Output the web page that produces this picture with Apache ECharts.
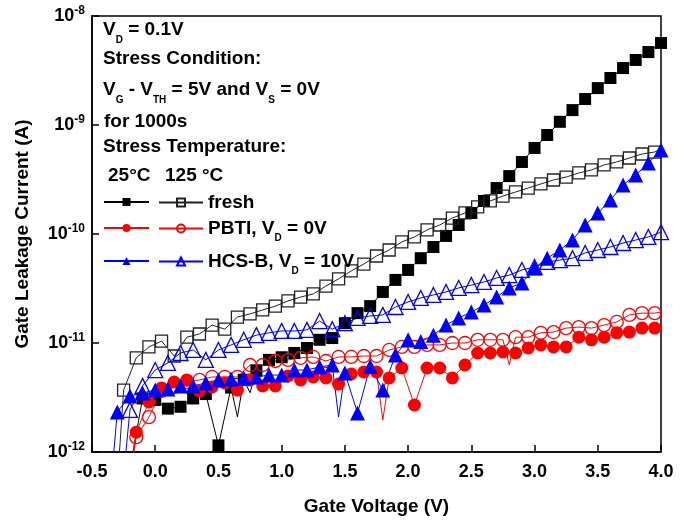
<!DOCTYPE html>
<html>
<head>
<meta charset="utf-8">
<script src="https://cdn.jsdelivr.net/npm/echarts@6/dist/echarts.min.js"></script>
<style>
  html, body { margin: 0; padding: 0; background: #fff; }
  #chart { width: 695px; height: 522px; }
</style>
</head>
<body>
<div id="chart"></div>
<script>
// gate voltage sweep points (V)
const voltsA = [-0.3, -0.2, -0.1, 0.0, 0.1, 0.2, 0.3, 0.4, 0.5, 0.6, 0.7, 0.8, 0.9, 1.0, 1.1, 1.2, 1.3, 1.4, 1.5, 1.6, 1.7, 1.8, 1.9, 2.0, 2.1, 2.2, 2.3, 2.4, 2.5, 2.6, 2.7, 2.8, 2.9, 3.0, 3.1, 3.2, 3.3, 3.4, 3.5, 3.6, 3.7, 3.8, 3.9, 4.0]
const voltsB = [-0.25, -0.15, -0.05, 0.05, 0.15, 0.25, 0.35, 0.45, 0.55, 0.65, 0.75, 0.85, 0.95, 1.05, 1.15, 1.25, 1.35, 1.45, 1.55, 1.65, 1.75, 1.85, 1.95, 2.05, 2.15, 2.25, 2.35, 2.45, 2.55, 2.65, 2.75, 2.85, 2.95, 3.05, 3.15, 3.25, 3.35, 3.45, 3.55, 3.65, 3.75, 3.85, 3.95]

// gate leakage current (A)
// fresh, 25C  (voltsA from -0.2)
const freshRT = [7e-13, 3.1e-12, 3.0e-12, 2.5e-12, 2.6e-12, 3.1e-12, 3.4e-12, 1.15e-12, 3.9e-12, 4.6e-12, 5.6e-12, 7.0e-12, 7.4e-12, 8.1e-12, 9.0e-12, 1.07e-11, 1.11e-11, 1.52e-11, 1.88e-11, 2.18e-11, 2.94e-11, 3.79e-11, 4.68e-11, 6.0e-11, 7.6e-11, 9.6e-11, 1.21e-10, 1.56e-10, 2.01e-10, 2.64e-10, 3.4e-10, 4.58e-10, 6.15e-10, 8.1e-10, 1.07e-9, 1.37e-9, 1.73e-9, 2.18e-9, 2.7e-9, 3.33e-9, 3.95e-9, 4.67e-9, 5.65e-9]
const freshRTGaps = [[0.65, 2.1e-12], [0.75, 3.5e-12]]
// fresh, 125C  (voltsB)
const freshHT = [3.7e-12, 7.3e-12, 9.2e-12, 1.04e-11, 7.6e-12, 1.13e-11, 1.21e-11, 1.46e-11, 1.34e-11, 1.73e-11, 1.85e-11, 2.01e-11, 2.18e-11, 2.43e-11, 2.64e-11, 2.82e-11, 3.33e-11, 3.87e-11, 4.58e-11, 5.3e-11, 6.28e-11, 7.13e-11, 8.45e-11, 9.4e-11, 1.09e-10, 1.21e-10, 1.4e-10, 1.56e-10, 1.77e-10, 2.01e-10, 2.23e-10, 2.43e-10, 2.64e-10, 2.88e-10, 3.13e-10, 3.33e-10, 3.63e-10, 3.87e-10, 4.3e-10, 4.58e-10, 4.98e-10, 5.42e-10, 5.65e-10]
const freshHTGaps = [[-0.3, 5e-13], [4.0, 6.0e-10]]
// PBTI, 25C  (voltsB from -0.15)
const pbtiRT = [1.52e-12, 2.88e-12, 3.87e-12, 4.39e-12, 4.58e-12, 3.63e-12, 3.95e-12, 4.3e-12, 3.7e-12, 4.58e-12, 4.04e-12, 4.04e-12, 4.98e-12, 4.58e-12, 4.88e-12, 4.78e-12, 4.2e-12, 5.2e-12, 5.42e-12, 5.42e-12, 4.78e-12, 5.9e-12, 2.7e-12, 5.9e-12, 5.9e-12, 4.78e-12, 6.28e-12, 8.1e-12, 8.1e-12, 8.27e-12, 8.1e-12, 9.0e-12, 9.6e-12, 9.2e-12, 9.2e-12, 1.13e-11, 1.07e-11, 1.13e-11, 1.24e-11, 1.26e-11, 1.37e-11, 1.37e-11]
const pbtiRTGaps = [[-0.2, 6e-13], [1.8, 1.97e-12], [4.0, 1.4e-11]]
// PBTI, 125C  (voltsB from -0.15)
const pbtiHT = [1.37e-12, 2.09e-12, 3.63e-12, 3.95e-12, 4.39e-12, 4.58e-12, 4.88e-12, 4.88e-12, 4.88e-12, 6.28e-12, 6.28e-12, 6.84e-12, 7.0e-12, 7.3e-12, 7.45e-12, 6.84e-12, 7.45e-12, 7.45e-12, 7.6e-12, 7.6e-12, 8.63e-12, 9.2e-12, 9.2e-12, 9.6e-12, 9.6e-12, 1.0e-11, 1.0e-11, 1.07e-11, 1.07e-11, 1.07e-11, 1.13e-11, 1.13e-11, 1.24e-11, 1.26e-11, 1.37e-11, 1.4e-11, 1.37e-11, 1.46e-11, 1.56e-11, 1.81e-11, 1.88e-11, 1.88e-11]
const pbtiHTGaps = [[-0.2, 6e-13], [2.8, 6.3e-12], [4.0, 1.92e-11]]
// HCS-B, 25C  (voltsA)
const hcsRT = [2.33e-12, 3.27e-12, 3.48e-12, 3.7e-12, 3.79e-12, 4.04e-12, 4.04e-12, 4.3e-12, 4.58e-12, 4.68e-12, 4.78e-12, 4.88e-12, 5.08e-12, 5.08e-12, 5.65e-12, 5.65e-12, 6.03e-12, 6.28e-12, 5.3e-12, 2.28e-12, 6.1e-12, 3.7e-12, 7.76e-12, 1.07e-11, 1.03e-11, 1.18e-11, 1.46e-11, 1.7e-11, 1.92e-11, 2.23e-11, 2.64e-11, 3.2e-11, 3.55e-11, 4.88e-11, 6.0e-11, 7.13e-11, 8.8e-11, 1.21e-10, 1.56e-10, 2.05e-10, 2.82e-10, 3.48e-10, 4.48e-10, 5.9e-10]
const hcsRTGaps = [[-0.35, 5e-13], [1.45, 2.1e-12]]
// HCS-B, 125C  (voltsA from -0.2)
const hcsHT = [2.43e-12, 4.04e-12, 5.65e-12, 6.56e-12, 8.1e-12, 8.63e-12, 7.0e-12, 8.63e-12, 9.6e-12, 1.07e-11, 1.18e-11, 1.24e-11, 1.29e-11, 1.29e-11, 1.32e-11, 1.59e-11, 1.34e-11, 1.52e-11, 1.7e-11, 1.77e-11, 1.81e-11, 2.14e-11, 2.38e-11, 2.59e-11, 2.76e-11, 2.94e-11, 3.2e-11, 3.4e-11, 3.63e-11, 3.95e-11, 4.2e-11, 4.68e-11, 4.98e-11, 5.54e-11, 5.77e-11, 6.0e-11, 6.7e-11, 7.13e-11, 7.6e-11, 8.27e-11, 8.8e-11, 9.4e-11, 1.04e-10]
const hcsHTGaps = [[-0.25, 6e-13]]

const xTicks = { min: -0.5, max: 4.0, step: 0.5 }
const yRange = [1e-12, 1e-8]
const legendTexts = ['{n|fresh}', '{n|PBTI, V}{d|D}{n| = 0V}', '{n|HCS-B, V}{d|D}{n| = 10V}']

const FONT = '"Liberation Sans", Arial, sans-serif'

function points(vs, is, gaps) {
  let d = vs.map((v, i) => ({ value: [v, is[i]] }))
  gaps.forEach(g => d.push({ value: g, symbol: 'none' }))
  return d.sort((a, b) => a.value[0] - b.value[0])
}

const rich = {
  n: { fontSize: 19, fontWeight: 'bold', fontFamily: FONT, color: '#000', lineHeight: 30 },
  d: { fontSize: 10, fontWeight: 'bold', fontFamily: FONT, color: '#000', lineHeight: 10, verticalAlign: 'bottom' }
}

function line(name, data, symbol, size, color, filled) {
  return {
    type: 'line',
    name,
    data,
    symbol,
    symbolSize: size,
    showAllSymbol: true,
    clip: true,
    animation: false,
    lineStyle: { color: color, width: 1 },
    itemStyle: filled
      ? { color: color, borderWidth: 0 }
      : { color: 'rgba(255,255,255,0)', borderColor: color, borderWidth: 1.3 },
    emphasis: { disabled: true }
  }
}

const series = [
  line('fresh 25', points(voltsA.slice(1), freshRT, freshRTGaps), 'rect', 12, '#000', true),
  line('fresh 125', points(voltsB, freshHT, freshHTGaps), 'rect', 12, '#222', false),
  line('PBTI 25', points(voltsB.slice(1), pbtiRT, pbtiRTGaps), 'circle', 13, '#ff0000', true),
  line('PBTI 125', points(voltsB.slice(1), pbtiHT, pbtiHTGaps), 'circle', 13, '#ff0000', false),
  line('HCS 25', points(voltsA, hcsRT, hcsRTGaps), 'triangle', 15, '#0000ff', true),
  line('HCS 125', points(voltsA.slice(1), hcsHT, hcsHTGaps), 'triangle', 15, '#0000ff', false)
]

// legend rows: filled (25C) column and open (125C) column with label
const rowY = [201, 227, 260]
let legends = []
rowY.forEach((y, i) => {
  legends.push({
    data: [series[i * 2].name], left: 103, top: y - 3, padding: 0,
    itemWidth: 45, itemHeight: 10, selectedMode: false,
    formatter: () => '', textStyle: { fontSize: 1, lineHeight: 1 }
  })
  legends.push({
    data: [series[i * 2 + 1].name], left: 158, top: y - 8, padding: 0,
    itemWidth: 44, itemHeight: 10, itemGap: 0, selectedMode: false,
    formatter: () => legendTexts[i], textStyle: { rich }
  })
})

function note(text, x, y) {
  return {
    type: 'text', x, y, z: 10,
    style: { text, rich, verticalAlign: 'middle', textVerticalAlign: 'middle', fill: '#000' }
  }
}

const chart = echarts.init(document.getElementById('chart'))
chart.setOption({
  backgroundColor: '#fff',
  animation: false,
  textStyle: { fontFamily: FONT },
  grid: { left: 92, right: 34, top: 16, bottom: 70, show: true, borderColor: '#000', borderWidth: 1.5, backgroundColor: 'transparent' },
  xAxis: {
    type: 'value', min: xTicks.min, max: xTicks.max, interval: xTicks.step,
    name: 'Gate Voltage (V)', nameLocation: 'middle', nameGap: 45,
    nameTextStyle: { fontSize: 19, fontWeight: 'bold', color: '#000' },
    axisLine: { onZero: false, lineStyle: { color: '#000', width: 1.5 } },
    axisTick: { inside: true, length: 7, lineStyle: { color: '#000', width: 1.5 } },
    axisLabel: { fontSize: 18, fontWeight: 'bold', color: '#000', margin: 11, formatter: v => v.toFixed(1) },
    splitLine: { show: false }
  },
  yAxis: {
    type: 'log', logBase: 10, min: yRange[0], max: yRange[1],
    name: 'Gate Leakage Current (A)', nameLocation: 'middle', nameGap: 60,
    nameTextStyle: { fontSize: 19, fontWeight: 'bold', color: '#000' },
    axisLine: { onZero: false, lineStyle: { color: '#000', width: 1.5 } },
    axisTick: { inside: true, length: 7, lineStyle: { color: '#000', width: 1.5 } },
    axisLabel: {
      margin: 7,
      formatter: v => '{b|10}{s|' + Math.round(Math.log10(v)) + '}',
      rich: {
        b: { fontSize: 18, fontWeight: 'bold', color: '#000', lineHeight: 22 },
        s: { fontSize: 12, fontWeight: 'bold', color: '#000', lineHeight: 8, verticalAlign: 'top' }
      }
    },
    splitLine: { show: false }
  },
  legend: legends,
  graphic: [
    note('{n|V}{d|D}{n| = 0.1V}', 103, 30),
    note('{n|Stress Condition:}', 103, 59),
    note('{n|V}{d|G}{n| - V}{d|TH}{n| = 5V and V}{d|S}{n| = 0V}', 103, 90),
    note('{n|for 1000s}', 104, 122),
    note('{n|Stress Temperature:}', 103, 147),
    note('{n|25°C}', 108, 176),
    note('{n|125 °C}', 165, 176)
  ],
  series
})
</script>
</body>
</html>
